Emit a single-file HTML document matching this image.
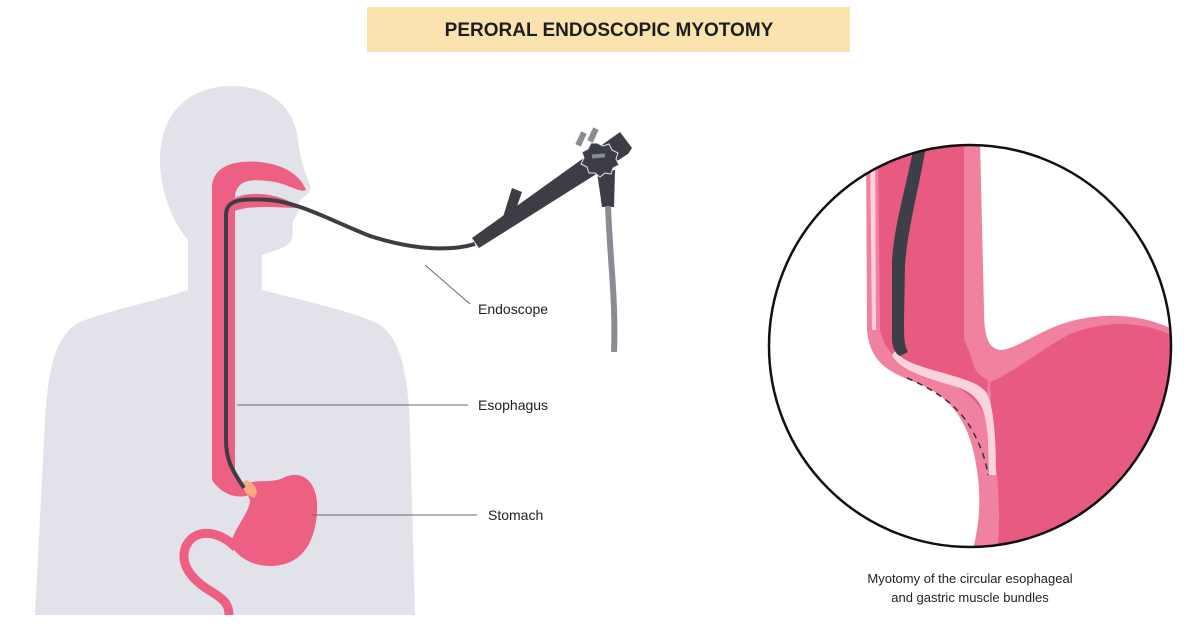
<!DOCTYPE html>
<html><head><meta charset="utf-8"><style>
html,body{margin:0;padding:0;background:#fff;}
body{width:1200px;height:630px;overflow:hidden;font-family:"Liberation Sans",sans-serif;}
</style></head><body>
<svg width="1200" height="630" viewBox="0 0 1200 630" xmlns="http://www.w3.org/2000/svg">
<rect x="367" y="7" width="483" height="45" fill="#fbe3b0"/>
<text x="609" y="36" text-anchor="middle" font-family="Liberation Sans" font-weight="bold" font-size="19" fill="#1e1e1e">PERORAL ENDOSCOPIC MYOTOMY</text>

<!-- body silhouette -->
<path d="M232,86 C190,86 160,112 160,160 C160,195 175,225 188,240 L188,290 C160,300 110,310 80,322 C55,335 48,370 45,420 L35,615 L415,615 L410,430 C408,370 400,335 375,322 C340,308 300,300 262,290 L262,255 C275,250 290,248 292,238 C294,230 290,225 295,218 C300,210 298,205 300,200 C305,196 312,193 310,185 C305,172 300,160 298,140 C294,105 268,86 232,86 Z" fill="#e2e2ea"/>

<!-- pink organs -->
<path d="M212,185 C215,165 235,160 260,162 C285,165 300,175 306,190 C300,193 290,185 275,182 C250,178 238,180 235,195 L235,470 C236,482 242,486 248,485 L252,494 C238,500 222,495 212,480 Z" fill="#ee5f84"/>
<path d="M232,200 C245,190 280,192 300,208 C280,208 250,204 232,212 Z" fill="#ee5f84"/>
<path d="M244,486 C256,477 270,485 285,477 C305,469 319,485 317,512 C315,545 300,566 270,566 C250,566 238,556 230,545 C236,525 250,512 250,500 Z" fill="#ee5f84"/>
<path d="M236,548 C222,532 196,526 186,546 C178,566 195,582 212,592 C225,600 229,605 229,615" fill="none" stroke="#ee5f84" stroke-width="9"/>
<path d="M246,480 C256,484 260,492 254,498 C247,496 241,488 243,482 Z" fill="#f7a982"/>

<!-- endoscope tube -->
<path d="M244,488 C232,470 226,460 226,440 L226,215 C226,200 240,198 270,200 C300,203 330,220 370,236 C420,252 455,250 475,244" fill="none" stroke="#3d3d45" stroke-width="4"/>
<!-- handle -->
<path d="M472,238 L620,132 L632,148 L628,154 L479,248 Z" fill="#3d3d45"/>
<path d="M503,217 L512,188 L522,192 L515,212 Z" fill="#3d3d45"/>
<rect x="578" y="132" width="6" height="14" fill="#8a8c94" transform="rotate(25 581 139)"/>
<rect x="590" y="128" width="6" height="14" fill="#8a8c94" transform="rotate(25 593 135)"/>
<path d="M597,172 L615,170 L614,207 L602,207 Z" fill="#3d3d45"/>
<path d="M608,206 C610,260 616,300 614,352" fill="none" stroke="#8a8c94" stroke-width="6"/>
<path d="M597,143 l6,3 6,-2 3,6 6,3 -2,6 3,6 -6,3 -2,6 -6,-1 -5,4 -5,-4 -6,0 -2,-6 -6,-3 3,-6 -2,-6 6,-3 3,-6 z" fill="#3d3d45" stroke="#e8e8ee" stroke-width="1"/>
<rect x="592" y="154" width="13" height="4" fill="#8a8c94" transform="rotate(-5 598 156)"/>

<!-- label lines -->
<g stroke="#6a6a6a" stroke-width="1">
<line x1="425" y1="265" x2="470" y2="304"/>
<line x1="237" y1="405" x2="468" y2="405"/>
<line x1="312" y1="515" x2="477" y2="515"/>
</g>
<g font-family="Liberation Sans" font-size="14" fill="#222">
<text x="478" y="314">Endoscope</text>
<text x="478" y="410">Esophagus</text>
<text x="488" y="520">Stomach</text>
</g>

<!-- circle detail -->
<defs><clipPath id="c"><circle cx="970" cy="346" r="201"/></clipPath></defs>
<g clip-path="url(#c)">
<path d="M866,140 L867,330 C870,362 888,372 915,382 C950,396 970,420 977,470 C983,510 976,540 970,560 L1180,560 L1180,333 C1150,316 1110,310 1068,322 C1040,330 1015,350 1000,350 C988,348 984,336 984,310 L980,140 Z" fill="#f0829f"/>
<path d="M878,140 L880,330 C885,350 895,360 915,368 C950,380 978,395 986,420 L988,380 C970,372 975,360 964,340 L964,140 Z" fill="#e85a7f"/>
<path d="M990,382 C1010,375 1040,350 1070,334 C1110,318 1150,322 1180,340 L1180,560 L996,560 C1002,520 998,480 993,440 Z" fill="#e85a7f"/>
<path d="M892,355 C900,372 935,380 960,388 C980,396 986,410 988,440 L989,475 L996,475 C996,440 994,405 986,392 C978,382 960,378 940,372 C915,365 900,360 896,350 Z" fill="#fbd3dc"/>
<path d="M870,140 L872,330 L876,330 L875,140 Z" fill="#fbd3dc"/>
<path d="M915,140 C908,180 895,220 892,260 L892,340 C893,350 897,355 900,356 L908,352 C904,345 904,335 904,320 L905,265 C908,225 920,185 927,140 Z" fill="#3d3f48"/>
<path d="M907,378 C935,390 958,405 972,430 C982,448 986,462 988,475" fill="none" stroke="#333" stroke-width="1.5" stroke-dasharray="6,5"/>
</g>
<circle cx="970" cy="346" r="201" fill="none" stroke="#111" stroke-width="2.5"/>
<g font-family="Liberation Sans" font-size="13" fill="#222" text-anchor="middle">
<text x="970" y="583">Myotomy of the circular esophageal</text>
<text x="970" y="602">and gastric muscle bundles</text>
</g>
</svg>
</body></html>
